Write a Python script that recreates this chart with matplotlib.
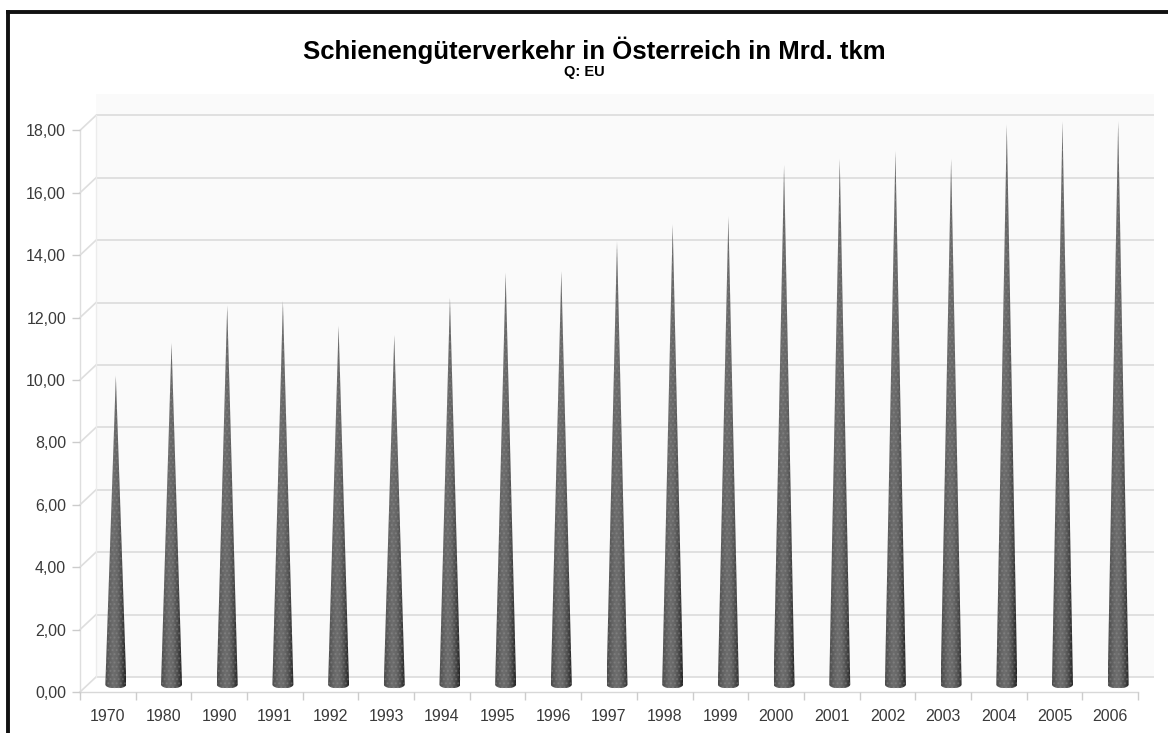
import numpy as np
import matplotlib
matplotlib.use("Agg")
import matplotlib.pyplot as plt
from matplotlib.patches import Polygon, Rectangle
from matplotlib.lines import Line2D
from matplotlib.colors import LinearSegmentedColormap
from matplotlib.ticker import FuncFormatter

plt.rcParams['font.family'] = ['Liberation Sans', 'DejaVu Sans']

# Daten: Schienengüterverkehr in Österreich (Mrd. tkm)
jahre = ['1970', '1980', '1990', '1991', '1992', '1993', '1994', '1995', '1996', '1997',
         '1998', '1999', '2000', '2001', '2002', '2003', '2004', '2005', '2006']
werte = [9.9, 10.95, 12.15, 12.3, 11.5, 11.2, 12.4, 13.2, 13.25, 14.2,
         14.75, 15.0, 16.65, 16.85, 17.1, 16.85, 17.95, 18.05, 18.05]
y_ticks = [0, 2, 4, 6, 8, 10, 12, 14, 16, 18]

titel = 'Schienengüterverkehr in Österreich in Mrd. tkm'
quelle = 'Q: EU'

W, H = 1168, 733
fig = plt.figure(figsize=(W / 100, H / 100), dpi=100)
fig.patch.set_facecolor('white')

# Achse in Pixeln platzieren
ax_l, ax_r, ax_b = 80, 1138, 692
ymax = 18.7
px_per_unit = 31.2
ax = fig.add_axes([ax_l / W, (H - ax_b) / H, (ax_r - ax_l) / W, ymax * px_per_unit / H])
n = len(jahre)
ax.set_xlim(-0.5, n - 0.5)
ax.set_ylim(0, ymax)
ax.set_facecolor('none')
for s in ax.spines.values():
    s.set_visible(False)

# 3D-Tiefe (Versatz der Rückwand) in Dateneinheiten
cat_px = (ax_r - ax_l) / n
ddx = 16 / cat_px
ddy = 15 / px_per_unit

# Rückwand
ax.add_patch(Rectangle((-0.5 + ddx, ddy), n, ymax, facecolor='#fafafa',
                       edgecolor='none', zorder=0, clip_on=False))
grid_c = '#dedede'
for v in y_ticks:
    ax.plot([-0.5 + ddx, n - 0.5 + ddx], [v + ddy, v + ddy], color=grid_c, lw=1.3,
            zorder=1, clip_on=False, solid_capstyle='butt')
    ax.plot([-0.5, -0.5 + ddx], [v, v + ddy], color=grid_c, lw=1.2, zorder=1, clip_on=False)
ax.plot([-0.5, -0.5], [0, 18], color=grid_c, lw=1.0, zorder=1, clip_on=False)
ax.plot([-0.5 + ddx, -0.5 + ddx], [ddy, 18 + ddy], color='#ececec', lw=1.0, zorder=1, clip_on=False)
ax.plot([-0.5, n - 0.5], [0, 0], color='#d8d8d8', lw=1.0, zorder=1, clip_on=False)

# Kategoriegrenzen als Striche nach unten
ax.set_xticks(np.arange(n + 1) - 0.5, minor=True)
ax.tick_params(axis='x', which='minor', length=6, width=1.0, color='#cccccc', direction='out')
ax.set_xticks(np.arange(n))
ax.set_xticklabels(jahre)
ax.tick_params(axis='x', which='major', length=0, pad=12, labelsize=11.5, labelcolor='#3a3a3a')

ax.set_yticks(y_ticks)
ax.yaxis.set_major_formatter(FuncFormatter(lambda v, p: f'{v:.2f}'.replace('.', ',')))
ax.tick_params(axis='y', length=6, width=1.0, color='#cccccc', pad=4, labelsize=11.5,
               labelcolor='#3a3a3a')

# Kegel
cmap = LinearSegmentedColormap.from_list('kegel', ['#4a4a4a', '#606060', '#6e6e6e', '#666666',
                                                  '#4c4c4c', '#222222'])
grad = np.linspace(0, 1, 64).reshape(1, -1)
half_w = 10.5 / cat_px
ell_h = 4 / px_per_unit
t = np.linspace(0, np.pi, 30)
for i, v in enumerate(werte):
    xc = i + ddx / 2
    yb = ddy / 2
    pts = [(xc - half_w, yb), (xc, v + yb), (xc + half_w, yb)]
    pts += [(xc + half_w * np.cos(a), yb - ell_h * np.sin(a)) for a in t]
    poly = Polygon(pts, closed=True, facecolor='none', edgecolor='none', zorder=3)
    ax.add_patch(poly)
    im = ax.imshow(grad, cmap=cmap, aspect='auto', zorder=3,
                   extent=(xc - half_w, xc + half_w, yb - ell_h, v + yb), interpolation='bilinear')
    im.set_clip_path(poly)
    tex = Polygon(pts, closed=True, facecolor='none', edgecolor='#a0a0a0', hatch='....',
                  lw=0, alpha=0.3, zorder=4)
    ax.add_patch(tex)
ax.set_xlim(-0.5, n - 0.5)
ax.set_ylim(0, ymax)

# Titel
fig.text(594 / W, 1 - 50 / H, titel, ha='center', va='center', fontsize=18.5,
         fontweight='heavy', color='black')
fig.text(584 / W, 1 - 72 / H, quelle, ha='center', va='center', fontsize=10.5,
         fontweight='heavy', color='black')

# Rahmen (links und oben)
fig.add_artist(Line2D([8 / W, 8 / W], [0, 1 - 12 / H], color='#111111', lw=2.8))
fig.add_artist(Line2D([8 / W, 1], [1 - 12 / H, 1 - 12 / H], color='#111111', lw=2.8))

fig.savefig('out.png', dpi=100)
